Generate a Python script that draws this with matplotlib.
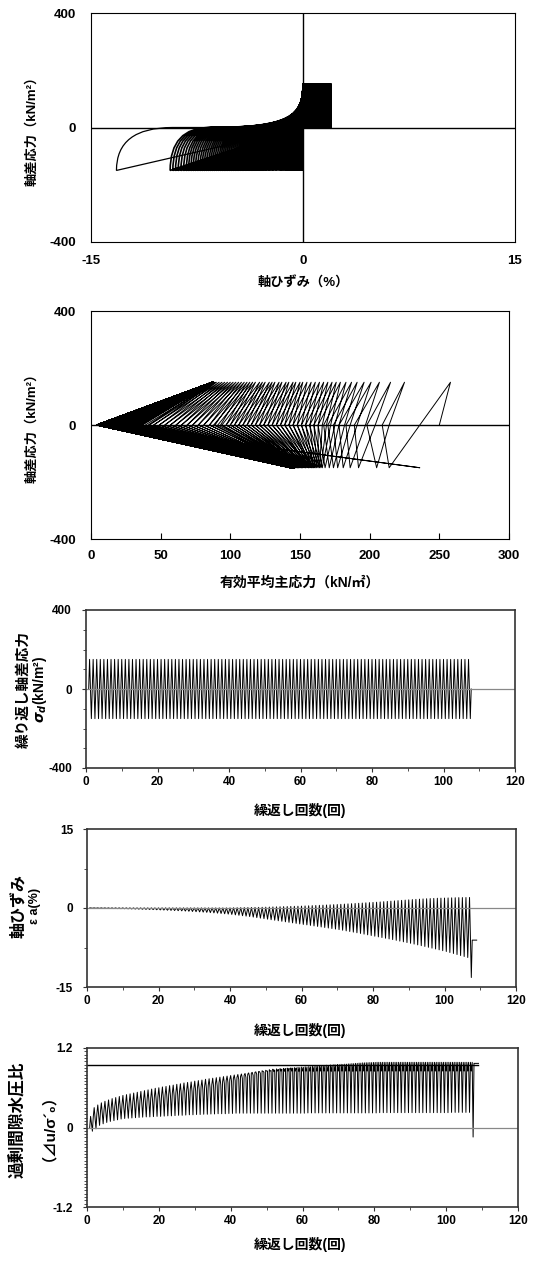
import numpy as np
import matplotlib
matplotlib.use('Agg')
import matplotlib.pyplot as plt
from matplotlib.path import Path
from matplotlib.patches import PathPatch
from matplotlib.ticker import MultipleLocator, FormatStrFormatter

plt.rcParams['font.family'] = ['Liberation Sans', 'Noto Sans CJK JP', 'DejaVu Sans']
plt.rcParams['font.weight'] = 'bold'
plt.rcParams['axes.unicode_minus'] = False

# test conditions
p0 = 250.0          # initial effective confining stress (kN/m2)
q_amp = 150.0       # cyclic deviator stress amplitude (kN/m2)
ru_criterion = 0.95
end_cycle = 109.0
eps_final = -6.1

# per cycle values (cycles 1..107)
# p' at compression peak
p_comp = [258, 225, 215, 207, 201, 196, 191, 187, 183, 179,
          176, 173, 170, 167, 164, 161, 158, 155, 152, 150,
          147, 145, 142, 140, 137, 135, 132, 130, 128, 125,
          123, 121, 118, 116, 114, 112, 110, 108, 106, 104,
          102, 100, 98, 96, 94, 92, 90, 89, 88, 87,
          87, 88, 87, 87, 88, 87, 87, 87, 88, 87,
          87, 87, 88, 87, 87, 87, 87, 88, 87, 87,
          87, 87, 87, 88, 87, 87, 87, 87, 87, 88,
          87, 87, 87, 87, 87, 87, 87, 87, 87, 87,
          87, 87, 87, 87, 87, 87, 87, 87, 87, 87,
          87, 87, 87, 87, 87, 87, 87]
# p' at extension peak
p_ext = [214, 205, 192, 186, 181, 177, 174, 171, 168, 166,
         165, 164, 163, 162, 161, 160, 160, 159, 158, 158,
         157, 156, 156, 155, 154, 154, 153, 152, 152, 151,
         151, 150, 150, 149, 149, 148, 148, 148, 147, 147,
         146, 146, 146, 146, 146, 146, 146, 146, 146, 146,
         146, 146, 146, 146, 146, 146, 146, 146, 146, 146,
         145, 145, 145, 145, 145, 145, 145, 145, 145, 145,
         145, 145, 145, 145, 145, 145, 145, 145, 145, 145,
         144, 144, 144, 144, 144, 144, 144, 144, 144, 144,
         144, 144, 144, 144, 144, 144, 144, 144, 144, 144,
         143, 143, 143, 143, 143, 143, 236]
# p' at q = 0 after compression peak
p_zero_a = [236, 214, 204, 197, 191, 186, 182, 178, 175, 172,
            169, 166, 163, 160, 157, 154, 151, 148, 145, 142,
            139, 136, 133, 130, 127, 124, 121, 118, 115, 112,
            109, 106, 103, 100, 97, 93, 89, 85, 81, 77,
            73, 69, 65, 61, 57, 53, 49, 45, 41, 37,
            35, 33, 31, 30, 28, 27, 26, 25, 24, 23,
            22, 21, 20, 19, 18, 17, 16, 15, 14, 13,
            12, 11, 10, 9, 8, 7, 6, 5.5, 5, 4.5,
            4, 4, 4, 4, 4, 4, 4, 4, 4, 4,
            4, 4, 4, 4, 4, 4, 4, 4, 4, 4,
            4, 4, 4, 4, 4, 4, 4]
# p' at q = 0 after extension peak
p_zero_b = [209, 198, 189, 183, 178, 174, 170, 167, 163, 160,
            157, 154, 151, 148, 145, 142, 139, 136, 133, 130,
            127, 124, 121, 118, 115, 112, 109, 106, 103, 100,
            97, 94, 91, 88, 85, 81, 77, 73, 69, 65,
            61, 57, 53, 49, 45, 42, 39, 36, 34, 32,
            30, 29, 28, 27, 26, 25, 24, 23, 22, 21,
            20, 19, 18, 17, 16, 15, 14, 13, 12, 11.5,
            11, 10, 9, 8, 7, 6, 5.5, 5, 4.5, 4,
            4, 4, 4, 4, 4, 4, 4, 4, 4, 4,
            4, 4, 4, 4, 4, 4, 4, 4, 4, 4,
            4, 4, 4, 4, 4, 4, 8]
# axial strain (%) at compression peak
eps_comp = [0.02, 0.02, 0.02, 0.02, 0.02, 0.02, 0.02, 0.02, 0.02, 0.02,
            0.02, 0.02, 0.02, 0.02, 0.02, 0.02, 0.02, 0.02, 0.02, 0.02,
            0.03, 0.03, 0.03, 0.03, 0.03, 0.03, 0.03, 0.03, 0.03, 0.03,
            0.03, 0.03, 0.03, 0.03, 0.03, 0.03, 0.03, 0.03, 0.03, 0.03,
            0.05, 0.06, 0.07, 0.08, 0.09, 0.10, 0.11, 0.12, 0.14, 0.16,
            0.18, 0.20, 0.22, 0.24, 0.26, 0.28, 0.30, 0.32, 0.34, 0.36,
            0.39, 0.42, 0.45, 0.48, 0.51, 0.54, 0.57, 0.60, 0.63, 0.66,
            0.70, 0.74, 0.78, 0.82, 0.86, 0.90, 0.94, 0.98, 1.02, 1.06,
            1.10, 1.15, 1.20, 1.25, 1.30, 1.35, 1.40, 1.45, 1.50, 1.55,
            1.60, 1.64, 1.68, 1.72, 1.76, 1.79, 1.82, 1.85, 1.87, 1.89,
            1.91, 1.93, 1.95, 1.97, 1.98, 1.99, 2.00]
# axial strain (%) at extension peak
eps_ext = [-0.05, -0.06, -0.07, -0.08, -0.09, -0.10, -0.11, -0.12, -0.13, -0.14,
           -0.16, -0.18, -0.20, -0.22, -0.24, -0.26, -0.28, -0.30, -0.33, -0.36,
           -0.39, -0.42, -0.45, -0.48, -0.51, -0.54, -0.58, -0.62, -0.66, -0.70,
           -0.74, -0.78, -0.83, -0.88, -0.93, -0.98, -1.04, -1.10, -1.16, -1.22,
           -1.30, -1.38, -1.46, -1.54, -1.62, -1.72, -1.82, -1.92, -2.02, -2.12,
           -2.22, -2.32, -2.42, -2.52, -2.62, -2.72, -2.82, -2.92, -3.02, -3.12,
           -3.20, -3.30, -3.40, -3.50, -3.60, -3.70, -3.80, -3.90, -4.00, -4.10,
           -4.22, -4.34, -4.46, -4.58, -4.70, -4.83, -4.96, -5.09, -5.22, -5.35,
           -5.48, -5.61, -5.74, -5.87, -6.00, -6.14, -6.28, -6.42, -6.56, -6.70,
           -6.85, -7.00, -7.15, -7.30, -7.46, -7.62, -7.78, -7.94, -8.10, -8.26,
           -8.45, -8.64, -8.83, -9.02, -9.21, -9.40, -13.20]

p_comp = np.array(p_comp, float)
p_ext = np.array(p_ext, float)
p_zero_a = np.array(p_zero_a, float)
p_zero_b = np.array(p_zero_b, float)
eps_comp = np.array(eps_comp)
eps_ext = np.array(eps_ext)
n = len(p_comp)
cycles = np.arange(1, n + 1)

# pore pressure ratio at each event (total mean stress changes by q/3)
ru_comp = (p0 + q_amp / 3 - p_comp) / p0
ru_za = (p0 - p_zero_a) / p0
ru_ext = (p0 - q_amp / 3 - p_ext) / p0
ru_zb = (p0 - p_zero_b) / p0

W, H = 537, 1264
fig = plt.figure(figsize=(W / 100, H / 100), dpi=100)


def box(x0, y0, x1, y1):
    return [x0 / W, 1 - y1 / H, (x1 - x0) / W, (y1 - y0) / H]


def ftext(x, y, s, size=9.5, rot=0):
    fig.text(x / W, 1 - y / H, s, ha='center', va='center', rotation=rot,
             fontsize=size, fontweight='bold')


lw = 0.7


def loop_path(ks, start):
    verts = [start]
    codes = [Path.MOVETO]
    for k in ks:
        ec, ee = eps_comp[k], eps_ext[k]
        verts += [(ec, q_amp), (ec, 0), (0, 0), (0.6 * ee, -0.6 * q_amp), (ee, -q_amp),
                  (ee, 0), (0.7 * ee, 0)]
        codes += [Path.LINETO, Path.LINETO, Path.LINETO, Path.CURVE3, Path.CURVE3,
                  Path.CURVE3, Path.CURVE3]
        if k < n - 1:
            verts += [(0.1 * ee, 0), (0, 0.27 * q_amp), (0, q_amp)]
            codes += [Path.CURVE4] * 3
        else:
            verts += [(eps_final, 0)]
            codes += [Path.LINETO]
    return Path(verts, codes)


# ---- 1: stress - strain
ax1 = fig.add_axes(box(91, 13, 515, 242))
ax1.add_patch(PathPatch(loop_path(range(n - 1), (0, 0)), fill=False, lw=1.2,
                        edgecolor='black'))
ax1.add_patch(PathPatch(loop_path([n - 1], (0, q_amp)), fill=False, lw=0.9,
                        edgecolor='black'))
ax1.axhline(0, color='black', lw=1.0)
ax1.axvline(0, color='black', lw=1.0)
ax1.set_xlim(-15, 15)
ax1.set_ylim(-400, 400)
ax1.set_xticks([-15, 0, 15])
ax1.set_yticks([-400, 0, 400])
ax1.tick_params(length=0, labelsize=9.5)
ax1.tick_params(axis='y', pad=11)
ax1.tick_params(axis='x', pad=9)
ftext(32, 128, '軸差応力（kN/m²）', rot=90)
ftext(303, 283, '軸ひずみ（%）')

# ---- 2: stress path
ax2 = fig.add_axes(box(91, 311, 509, 539))
px = [p0]
qy = [0.0]
for k in range(n):
    px += [p_comp[k], p_zero_a[k], p_ext[k], p_zero_b[k]]
    qy += [q_amp, 0.0, -q_amp, 0.0]
ax2.plot(px, qy, color='black', lw=lw)
ax2.axhline(0, color='black', lw=1.0)
ax2.set_xlim(0, 300)
ax2.set_ylim(-400, 400)
ax2.set_xticks(range(0, 301, 50))
ax2.set_yticks([-400, 0, 400])
ax2.tick_params(labelsize=9.5)
ax2.tick_params(axis='x', direction='in', length=4, pad=8)
ax2.tick_params(axis='y', length=0, pad=11)
ftext(32, 425, '軸差応力（kN/m²）', rot=90)
ftext(300, 583, '有効平均主応力（kN/㎡）', size=10)


def time_axes(ax, ylim, ystep):
    ax.set_xlim(0, 120)
    ax.set_ylim(*ylim)
    ax.set_xticks(range(0, 121, 20))
    ax.set_yticks([ylim[0], 0, ylim[1]])
    ax.yaxis.set_major_formatter(FormatStrFormatter('%g'))
    ax.xaxis.set_minor_locator(MultipleLocator(10))
    ax.yaxis.set_minor_locator(MultipleLocator(ystep))
    ax.tick_params(which='both', direction='out', labelsize=8.5, color='#333333')
    ax.tick_params(which='major', length=3)
    ax.tick_params(which='minor', length=2)
    ax.tick_params(axis='y', pad=7)
    ax.tick_params(axis='x', pad=3)
    for s in ax.spines.values():
        s.set_linewidth(1.2)
        s.set_color('#333333')
    ax.axhline(0, color='#888888', lw=0.9)


# ---- 3: cyclic stress vs cycles
ax3 = fig.add_axes(box(86, 610, 515, 768))
t3 = np.concatenate([[0.75], np.column_stack([cycles, cycles + 0.5]).ravel(), [n + 0.75]])
q3 = np.concatenate([[0.0], np.tile([q_amp, -q_amp], n), [0.0]])
ax3.plot(t3, q3, color='black', lw=lw)
time_axes(ax3, (-400, 400), 100)
ftext(24, 689, '繰り返し軸差応力', size=10.5, rot=90)
ftext(40, 689, r'$\sigma_d$(kN/m²)', size=10, rot=90)
ftext(300, 810, '繰返し回数(回)', size=10)

# ---- 4: axial strain vs cycles
ax4 = fig.add_axes(box(87, 829, 516, 987))
t4 = np.concatenate([[0.75], np.column_stack([cycles, cycles + 0.5]).ravel(),
                     [n + 0.75, end_cycle]])
e4 = np.concatenate([[0.0], np.column_stack([eps_comp, eps_ext]).ravel(),
                     [eps_final, eps_final]])
ax4.plot(t4, e4, color='black', lw=lw)
time_axes(ax4, (-15, 15), 7.5)
ftext(18, 906, '軸ひずみ', size=11.5, rot=90)
ftext(35, 906, 'ε a(%)', size=9, rot=90)
ftext(300, 1030, '繰返し回数(回)', size=10)

# ---- 5: excess pore pressure ratio vs cycles
ax5 = fig.add_axes(box(87, 1048, 518, 1207))
t5 = np.concatenate([[0.75], np.column_stack([cycles, cycles + 0.25, cycles + 0.5,
                                               cycles + 0.75]).ravel(), [end_cycle]])
r5 = np.concatenate([[0.0], np.column_stack([ru_comp, ru_za, ru_ext, ru_zb]).ravel(),
                     [ru_zb[-1]]])
ax5.plot(t5, r5, color='black', lw=lw)
ax5.plot([0, end_cycle], [ru_criterion, ru_criterion], color='black', lw=1.0)
time_axes(ax5, (-1.2, 1.2), 0.05)
ftext(18, 1120, '過剰間隙水圧比', size=12, rot=90)
ftext(41, 1120, '（⊿u/σ´₀）', size=11, rot=90)
ftext(300, 1244, '繰返し回数(回)', size=10)

fig.savefig('out.png', dpi=100)
